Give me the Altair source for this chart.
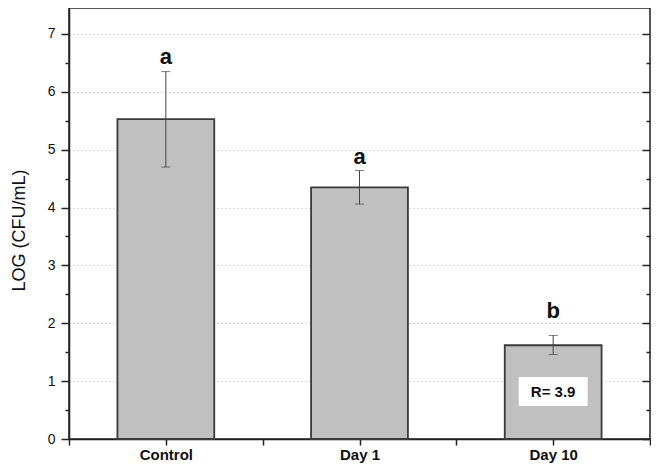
import altair as alt
import pandas as pd

categories = ["Control", "Day 1", "Day 10"]
means = [5.53, 4.35, 1.62]
err_low = [4.70, 4.06, 1.46]
err_high = [6.35, 4.64, 1.79]
letters = ["a", "a", "b"]
letter_y = [6.60, 4.87, 2.21]

note_text = "R= 3.9"
note_cat = "Day 10"
note_y = 0.82
note_lo = 0.57
note_hi = 1.07

FONT = "Liberation Sans"
W, H = 581, 431

idx = list(range(len(categories)))
df = pd.DataFrame({
    "cat": categories,
    "pos": [i + 0.5 for i in idx],
    "left": [i + 0.25 for i in idx],
    "right": [i + 0.75 for i in idx],
    "mean": means,
    "lo": err_low,
    "hi": err_high,
    "letter": letters,
    "ly": letter_y,
})
ni = categories.index(note_cat)
note_df = pd.DataFrame({
    "x1": [ni + 0.322], "x2": [ni + 0.678], "pos": [ni + 0.5],
    "y1": [note_lo], "y2": [note_hi], "ym": [note_y], "t": [note_text],
})

label_expr = " : ".join(
    f"datum.value == {i + 0.5} ? '{c}'" for i, c in enumerate(categories)
) + " : ''"

xscale = alt.Scale(domain=[0, 3], nice=False, zero=False)
yscale = alt.Scale(domain=[0, 7.449], nice=False)

major_vals = list(range(0, 8))
minor_vals = [v + 0.5 for v in range(0, 7)]
half_vals = [v / 2 for v in range(0, 15)]
xvals = [v / 2 for v in range(0, 7)]

x_axis = alt.Axis(
    values=xvals, labelExpr=label_expr, title=None, grid=False,
    tickSize=6, tickColor="#222", tickWidth=1.5, domainColor="#222", domainWidth=1.5,
    labelFont=FONT, labelFontSize=15, labelFontWeight="bold", labelColor="#111",
    labelPadding=2,
)

y_axis = alt.Axis(
    values=major_vals, format="d",
    title="LOG (CFU/mL)", titleFont=FONT, titleFontSize=18, titleFontWeight="normal",
    titleColor="#111", titlePadding=19, titleY=222,
    labelFont=FONT, labelFontSize=14, labelColor="#111", labelPadding=6,
    tickSize=8, tickColor="#222", tickWidth=1.5, domainColor="#222", domainWidth=1.5,
    grid=True, gridColor="#b8b8b8", gridDash=[1, 3], gridWidth=1,
    gridOpacity={"condition": {"test": "datum.value > 0", "value": 1}, "value": 0},
)

y_axis_minor = alt.Axis(
    values=minor_vals, labels=False, title=None, grid=False, domain=False,
    orient="left", offset=0, tickSize=4, tickColor="#222", tickWidth=1.5,
)

y_axis_right = alt.Axis(
    values=half_vals, labels=False, title=None, grid=False, domain=False,
    orient="left", offset=-W,
    tickSize={"condition": {"test": "datum.value % 1 !== 0", "value": 4}, "value": 8},
    tickColor="#222", tickWidth=1.5,
)

base = alt.Chart(df)

bars = base.mark_rect(color="#c0c0c0", stroke="#3a3a3a", strokeWidth=1.8).encode(
    x=alt.X("left:Q", scale=xscale, axis=x_axis),
    x2="right:Q",
    y=alt.Y("mean:Q", scale=yscale, axis=y_axis),
    y2=alt.Y2(datum=0),
)

rules = base.mark_rule(color="#444", strokeWidth=1).encode(
    x=alt.X("pos:Q", scale=xscale, axis=x_axis),
    y=alt.Y("lo:Q", scale=yscale, axis=y_axis_right),
    y2="hi:Q",
)

caps_hi = base.mark_tick(orient="horizontal", size=9, thickness=1, color="#444").encode(
    x=alt.X("pos:Q", scale=xscale, axis=x_axis),
    y=alt.Y("hi:Q", scale=yscale, axis=y_axis_minor),
)
caps_lo = base.mark_tick(orient="horizontal", size=9, thickness=1, color="#444").encode(
    x=alt.X("pos:Q", scale=xscale, axis=x_axis),
    y=alt.Y("lo:Q", scale=yscale, axis=None),
)

letters_layer = base.mark_text(font=FONT, fontSize=22, fontWeight="bold", color="#111",
                               baseline="middle").encode(
    x=alt.X("pos:Q", scale=xscale, axis=x_axis),
    y=alt.Y("ly:Q", scale=yscale, axis=None),
    text="letter:N",
)

note_box = alt.Chart(note_df).mark_rect(color="white").encode(
    x=alt.X("x1:Q", scale=xscale, axis=x_axis),
    x2="x2:Q",
    y=alt.Y("y1:Q", scale=yscale, axis=None),
    y2="y2:Q",
)
note_txt = alt.Chart(note_df).mark_text(font=FONT, fontSize=15, fontWeight="bold",
                                         color="#111", baseline="middle").encode(
    x=alt.X("pos:Q", scale=xscale, axis=x_axis),
    y=alt.Y("ym:Q", scale=yscale, axis=None),
    text="t:N",
)

chart = alt.layer(
    bars, rules, caps_hi, caps_lo, letters_layer, note_box, note_txt
).resolve_scale(y="shared", x="shared").resolve_axis(y="independent").properties(
    width=W, height=H,
    autosize=alt.AutoSizeParams(type="none"),
    padding={"left": 61, "top": 0, "right": 1, "bottom": 26},
    background="white",
).configure_view(stroke="#222", strokeWidth=1.5)

chart.save("out.html", embed_options={"renderer": "svg", "actions": False})
